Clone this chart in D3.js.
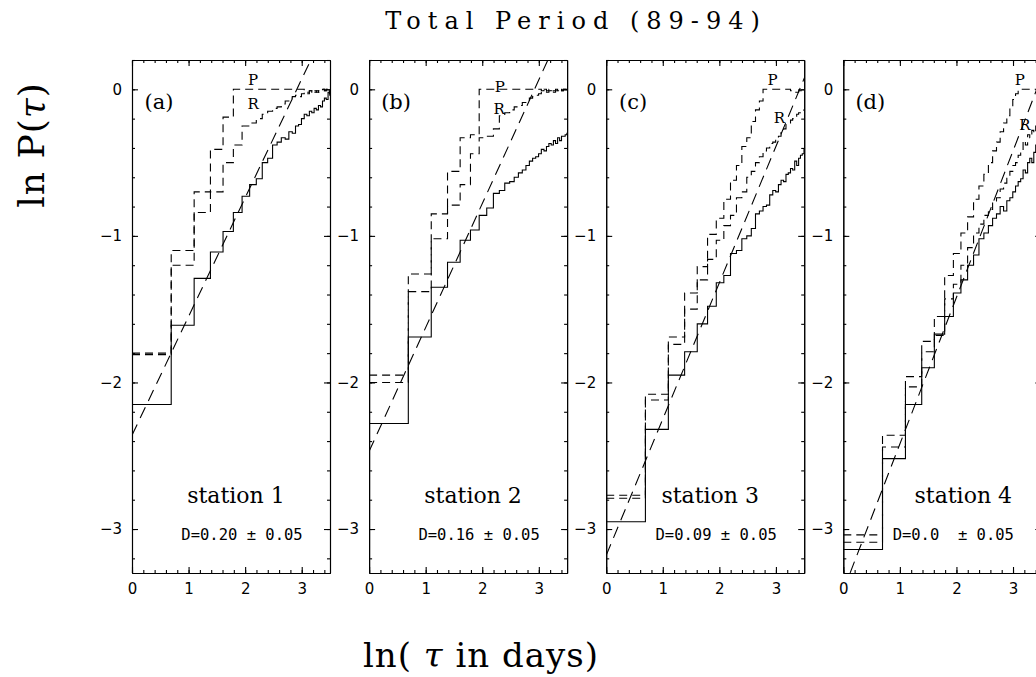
<!DOCTYPE html>
<html>
<head>
<meta charset="utf-8">
<script src="https://cdn.jsdelivr.net/npm/d3@7"></script>
<style>
  body { margin: 0; background: #fff; }
  svg { display: block; }
  .tick text { font-family: "DejaVu Sans", sans-serif; font-size: 15px; fill: #000; }
  .domain, .tick line { stroke: #000; stroke-width: 1.1; }
</style>
</head>
<body>
<script>
// tau in days, one step per day
const tau = [1,2,3,4,5,6,7,8,9,10,11,12,13,14,15,16,17,18,19,20,21,22,23,24,25,26,27,28,29,30,31,32,33];

const panelLetters = ["(a)", "(b)", "(c)", "(d)"];
const stations = ["station 1", "station 2", "station 3", "station 4"];
const dLabels = ["D=0.20 \u00b1 0.05", "D=0.16 \u00b1 0.05", "D=0.09 \u00b1 0.05", "D=0.0\u00a0\u00a0\u00b1 0.05"];

// observed ln P(tau), solid
const solidA = [-2.15,-1.61,-1.29,-1.11,-0.97,-0.84,-0.73,-0.65,-0.61,-0.50,-0.47,-0.38,-0.36,-0.33,-0.34,-0.29,-0.30,-0.25,-0.24,-0.20,-0.17,-0.18,-0.15,-0.16,-0.13,-0.14,-0.11,-0.12,-0.08,-0.06,-0.07,-0.02,-0.04];
const solidB = [-2.28,-1.69,-1.35,-1.18,-1.03,-0.96,-0.86,-0.81,-0.71,-0.69,-0.64,-0.63,-0.60,-0.57,-0.55,-0.52,-0.49,-0.47,-0.46,-0.44,-0.41,-0.42,-0.39,-0.37,-0.38,-0.35,-0.37,-0.33,-0.35,-0.32,-0.32,-0.31,-0.30];
const solidC = [-2.95,-2.32,-1.95,-1.79,-1.60,-1.48,-1.32,-1.27,-1.12,-1.10,-1.02,-1.00,-0.95,-0.85,-0.83,-0.80,-0.79,-0.72,-0.69,-0.70,-0.65,-0.62,-0.63,-0.58,-0.57,-0.54,-0.55,-0.49,-0.52,-0.47,-0.45,-0.44,-0.41];
const solidD = [-3.14,-2.52,-2.15,-1.90,-1.67,-1.55,-1.39,-1.30,-1.20,-1.13,-1.02,-0.98,-0.93,-0.88,-0.85,-0.80,-0.83,-0.76,-0.74,-0.70,-0.66,-0.63,-0.61,-0.55,-0.57,-0.50,-0.47,-0.50,-0.43,-0.38,-0.36,-0.35,-0.33];

// "P" curves, dashed
const pA = [-1.80,-1.10,-0.70,-0.41,-0.19,0,0,0,0,0,0,0,0,0,0,0,0,0,0,0,-0.01,-0.02,-0.01,-0.03,-0.02,-0.01,-0.02,-0.01,0,-0.01,0,-0.02,-0.01];
const pB = [-1.95,-1.26,-0.85,-0.56,-0.33,-0.31,0,0,0,0,0,0,0,0,0,0,0,0,0,0,-0.01,0,-0.02,-0.01,0,-0.02,-0.01,-0.01,-0.02,-0.01,0,0,-0.01];
const pC = [-2.77,-2.08,-1.69,-1.39,-1.21,-0.99,-0.88,-0.75,-0.62,-0.52,-0.39,-0.33,-0.22,-0.14,-0.08,0,0,0,0,0,0,0,0,0,0,-0.01,-0.01,-0.02,-0.02,-0.01,-0.01,0,0];
const pD = [-3.04,-2.36,-1.96,-1.72,-1.55,-1.27,-1.12,-0.98,-0.87,-0.75,-0.66,-0.58,-0.50,-0.42,-0.36,-0.29,-0.23,-0.18,-0.12,-0.07,-0.03,0,0,0,0,0,0,0,0,0,0,0,0];

// "R" curves, dashed
const rA = [-1.81,-1.20,-0.84,-0.70,-0.50,-0.38,-0.25,-0.23,-0.20,-0.17,-0.15,-0.13,-0.12,-0.10,-0.08,-0.06,-0.05,-0.04,-0.05,-0.03,-0.02,-0.03,-0.01,-0.02,-0.01,-0.02,-0.01,-0.01,0,-0.01,0,-0.03,-0.01];
const rB = [-2.00,-1.38,-1.02,-0.79,-0.65,-0.44,-0.33,-0.32,-0.27,-0.18,-0.16,-0.14,-0.12,-0.11,-0.09,-0.08,-0.06,-0.05,-0.04,-0.03,-0.01,0,-0.01,0,-0.01,-0.01,0,-0.01,0,-0.01,0,0,-0.01];
const rC = [-2.79,-2.12,-1.74,-1.50,-1.30,-1.16,-1.03,-0.93,-0.86,-0.74,-0.70,-0.60,-0.56,-0.50,-0.46,-0.42,-0.40,-0.37,-0.36,-0.33,-0.32,-0.29,-0.27,-0.24,-0.23,-0.21,-0.20,-0.19,-0.17,-0.16,-0.15,-0.15,-0.14];
const rD = [-3.09,-2.44,-2.03,-1.79,-1.68,-1.43,-1.33,-1.20,-1.08,-0.98,-0.92,-0.86,-0.82,-0.77,-0.74,-0.68,-0.64,-0.60,-0.56,-0.52,-0.50,-0.45,-0.42,-0.35,-0.38,-0.31,-0.33,-0.28,-0.30,-0.25,-0.24,-0.22,-0.21];

// straight fits: ln P = intercept + slope * ln tau
const fitIntercept = [-2.36, -2.47, -3.18, -3.42];
const fitSlope = [0.81, 0.845, 0.93, 1.0];

// where the P / R letters sit, in data units
const pLabelPos = [[2.14, 0.055], [2.31, 0.01], [2.94, 0.06], [3.12, 0.06]];
const rLabelPos = [[2.14, -0.11], [2.30, -0.14], [3.06, -0.20], [3.21, -0.25]];

const yMajor = [-3, -2, -1, 0];
const xMajor = [0, 1, 2, 3];

const solids = [solidA, solidB, solidC, solidD];
const ps = [pA, pB, pC, pD];
const rs = [rA, rB, rC, rD];

const width = 1036, height = 677;
const plotTop = 60, plotBottom = 573;
const panelW = 198, left0 = 132, step = 237.1;
const plotH = plotBottom - plotTop;

const svg = d3.select("body").append("svg")
  .attr("width", width)
  .attr("height", height);

const x = d3.scaleLinear().domain([0, 3.5]).range([0, panelW]);
const y = d3.scaleLinear().domain([-3.3, 0.2]).range([plotH, 0]);

const yMinor = d3.range(-3.2, 0.21, 0.2).map(v => +v.toFixed(1));
const xMinor = d3.range(0, 3.41, 0.2).map(v => +v.toFixed(1));

const stepLine = d3.line()
  .x(d => x(d[0]))
  .y(d => y(d[1]))
  .curve(d3.curveStepAfter);

const stationDx = [0, 0, 0, 16];

for (let i = 0; i < 4; i++) {
  const g = svg.append("g")
    .attr("transform", `translate(${left0 + i * step},${plotTop})`);

  g.append("clipPath").attr("id", `clip${i}`)
    .append("rect")
    .attr("width", panelW).attr("height", plotH);

  // minor ticks, all four sides
  g.append("g").call(d3.axisLeft(y).tickValues(yMinor).tickSize(-3).tickSizeOuter(0).tickFormat(""));
  g.append("g").attr("transform", `translate(${panelW},0)`)
    .call(d3.axisRight(y).tickValues(yMinor).tickSize(-3).tickSizeOuter(0).tickFormat(""));
  g.append("g").attr("transform", `translate(0,${plotH})`)
    .call(d3.axisBottom(x).tickValues(xMinor).tickSize(-3).tickSizeOuter(0).tickFormat(""));
  g.append("g")
    .call(d3.axisTop(x).tickValues(xMinor).tickSize(-3).tickSizeOuter(0).tickFormat(""));

  // major ticks + labels
  g.append("g").call(d3.axisLeft(y).tickValues(yMajor).tickSize(-6).tickSizeOuter(0).tickPadding(10).tickFormat(d3.format("d")));
  g.append("g").attr("transform", `translate(${panelW},0)`)
    .call(d3.axisRight(y).tickValues(yMajor).tickSize(-6).tickSizeOuter(0).tickFormat(""));
  g.append("g").attr("transform", `translate(0,${plotH})`)
    .call(d3.axisBottom(x).tickValues(xMajor).tickSize(-6).tickSizeOuter(0).tickPadding(10).tickFormat(d3.format("d")));
  g.append("g")
    .call(d3.axisTop(x).tickValues(xMajor).tickSize(-6).tickSizeOuter(0).tickFormat(""));

  const plot = g.append("g").attr("clip-path", `url(#clip${i})`);

  const toPts = arr => {
    const pts = tau.map((t, k) => [Math.log(t), arr[k]]);
    pts.push([3.6, arr[arr.length - 1]]);
    return pts;
  };

  plot.append("path")
    .attr("d", stepLine(toPts(ps[i])))
    .attr("fill", "none").attr("stroke", "#000").attr("stroke-width", 1.1)
    .attr("stroke-dasharray", "8,5");

  plot.append("path")
    .attr("d", stepLine(toPts(rs[i])))
    .attr("fill", "none").attr("stroke", "#000").attr("stroke-width", 1.1)
    .attr("stroke-dasharray", "8,5");

  plot.append("path")
    .attr("d", stepLine(toPts(solids[i])))
    .attr("fill", "none").attr("stroke", "#000").attr("stroke-width", 1.1);

  const fitPts = [0, 3.6].map(v => [v, fitIntercept[i] + fitSlope[i] * v]);
  plot.append("path")
    .attr("d", d3.line().x(d => x(d[0])).y(d => y(d[1]))(fitPts))
    .attr("fill", "none").attr("stroke", "#000").attr("stroke-width", 1.1)
    .attr("stroke-dasharray", "12,7");

  // letters
  g.append("text")
    .attr("x", 27).attr("y", 43)
    .attr("text-anchor", "middle").attr("dominant-baseline", "middle")
    .style("font-family", "DejaVu Serif, serif").style("font-size", "21px")
    .text(panelLetters[i]);

  g.append("text")
    .attr("x", x(pLabelPos[i][0])).attr("y", y(pLabelPos[i][1]))
    .attr("text-anchor", "middle").attr("dominant-baseline", "middle")
    .style("font-family", "DejaVu Serif, serif").style("font-size", "15px")
    .text("P");
  g.append("text")
    .attr("x", x(rLabelPos[i][0])).attr("y", y(rLabelPos[i][1]))
    .attr("text-anchor", "middle").attr("dominant-baseline", "middle")
    .style("font-family", "DejaVu Serif, serif").style("font-size", "15px")
    .text("R");

  g.append("text")
    .attr("x", panelW / 2 + 5 + stationDx[i]).attr("y", 497 - plotTop)
    .attr("text-anchor", "middle").attr("dominant-baseline", "middle")
    .style("font-family", "DejaVu Serif, serif").style("font-size", "22px")
    .text(stations[i]);

  g.append("text")
    .attr("x", panelW / 2 + 11).attr("y", 535 - plotTop)
    .attr("text-anchor", "middle").attr("dominant-baseline", "middle")
    .style("font-family", "DejaVu Sans Mono, monospace").style("font-size", "15.5px")
    .text(dLabels[i]);
}

// title and axis titles
svg.append("text")
  .attr("x", 576).attr("y", 29)
  .attr("text-anchor", "middle")
  .style("font-family", "DejaVu Serif, serif").style("font-size", "24px")
  .style("letter-spacing", "7px")
  .text("Total Period (89-94)");

svg.append("text")
  .attr("transform", "translate(44,145) rotate(-90)")
  .attr("text-anchor", "middle")
  .style("font-family", "DejaVu Serif, serif").style("font-size", "36px")
  .style("letter-spacing", "1px")
  .html("ln P(<tspan font-style='italic'>\u03c4</tspan>)");

svg.append("text")
  .attr("x", 481).attr("y", 667)
  .attr("text-anchor", "middle")
  .style("font-family", "DejaVu Serif, serif").style("font-size", "34px")
  .style("letter-spacing", "1px")
  .html("ln( <tspan font-style='italic'>\u03c4</tspan> in days)");
</script>
</body>
</html>
